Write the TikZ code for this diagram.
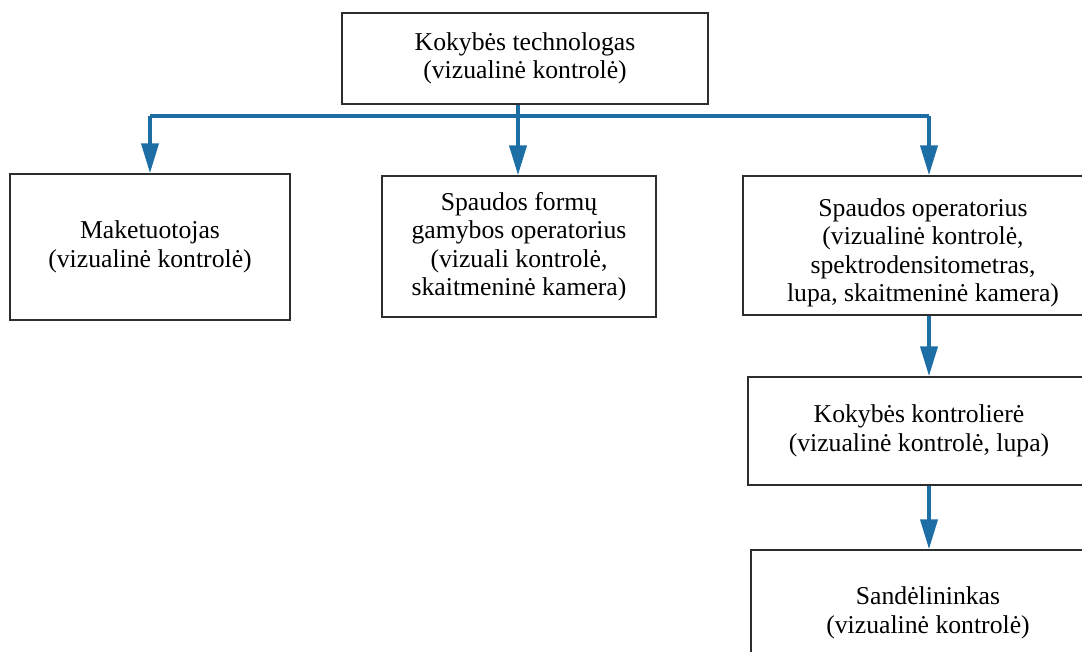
\documentclass[tikz,border=0pt]{standalone}
\usepackage{fontspec}
\setmainfont{Liberation Serif}
\usetikzlibrary{arrows.meta}
\definecolor{arrblue}{RGB}{30,110,166}
\definecolor{boxgray}{RGB}{45,45,45}

\begin{document}
\begin{tikzpicture}[x=1pt, y=-1pt,
  box/.style={draw=boxgray, line width=1.4pt, align=center, inner sep=0pt,
    font=\fontsize{25.7pt}{28.5pt}\selectfont},
  arr/.style={draw=arrblue, line width=4pt, -{Triangle[length=30pt,width=17pt]}},
  link/.style={draw=arrblue, line width=4pt}]
\useasboundingbox (0,0) rectangle (1082,652);
\clip (0,0) rectangle (1082,652);
% nodes
\node[box, minimum width=366pt, minimum height=91pt] (techn) at (525,58.5)
  {Kokybės technologas\\(vizualinė kontrolė)};
\node[box, minimum width=280pt, minimum height=146pt] (maket) at (150,247)
  {Maketuotojas\\(vizualinė kontrolė)};
\node[box, minimum width=274pt, minimum height=141pt] (formu) at (519,246.5)
  {Spaudos formų\\gamybos operatorius\\(vizuali kontrolė,\\skaitmeninė kamera)};
\node[box, minimum width=360pt, minimum height=139pt] (spaud) at (923,245.5)
  {\rule{0pt}{32pt}Spaudos operatorius\\(vizualinė kontrolė,\\spektrodensitometras,\\lupa, skaitmeninė kamera)};
\node[box, minimum width=342pt, minimum height=108pt] (kontr) at (919,431)
  {Kokybės kontrolierė\\(vizualinė kontrolė, lupa)};
\node[box, minimum width=354pt, minimum height=126pt] (sand) at (928,613)
  {Sandėlininkas\\(vizualinė kontrolė)};
% connectors
\coordinate (hub) at (518,116);
\coordinate (rt) at (929,116);
\draw[link] (techn.south -| hub) -- (hub);
\draw[link] (hub -| maket.north) -- (rt);
\draw[arr] (hub -| maket.north) -- (maket.north);
\draw[arr] (hub) -- (hub |- formu.north);
\draw[arr] (rt) -- (rt |- spaud.north);
\draw[arr] (spaud.south -| rt) -- (kontr.north -| rt);
\draw[arr] (kontr.south -| rt) -- (sand.north -| rt);
\end{tikzpicture}
\end{document}
